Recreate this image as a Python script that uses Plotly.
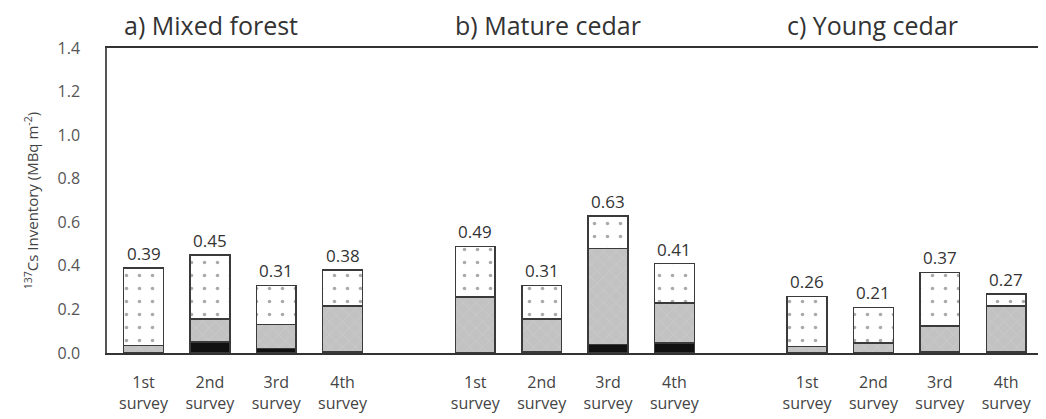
import plotly.graph_objects as go

# ---- data ----
groups = ["a) Mixed forest", "b) Mature cedar", "c) Young cedar"]
surveys = ["1st", "2nd", "3rd", "4th"]
survey_labels = ["1st<br>survey", "2nd<br>survey", "3rd<br>survey", "4th<br>survey"]

# totals (labels above bars), MBq m-2
totals = {
    "a) Mixed forest": [0.39, 0.45, 0.31, 0.38],
    "b) Mature cedar": [0.49, 0.31, 0.63, 0.41],
    "c) Young cedar": [0.26, 0.21, 0.37, 0.27],
}
# bottom (black) layer
black_layer = {
    "a) Mixed forest": [0.0, 0.05, 0.02, 0.005],
    "b) Mature cedar": [0.0, 0.005, 0.04, 0.045],
    "c) Young cedar": [0.0, 0.0, 0.005, 0.005],
}
# middle (grey, hatched) layer
grey_layer = {
    "a) Mixed forest": [0.035, 0.105, 0.11, 0.21],
    "b) Mature cedar": [0.257, 0.15, 0.44, 0.185],
    "c) Young cedar": [0.03, 0.045, 0.12, 0.21],
}

GROUP_STEP = 5  # 4 bars + one empty slot between panels

xs, black_v, grey_v, top_v, tot_v, tickvals, ticktext = [], [], [], [], [], [], []
for g, grp in enumerate(groups):
    for i, s in enumerate(surveys):
        x = g * GROUP_STEP + i
        xs.append(x)
        b = black_layer[grp][i]
        gr = grey_layer[grp][i]
        t = totals[grp][i]
        black_v.append(b)
        grey_v.append(gr)
        top_v.append(round(t - b - gr, 4))
        tot_v.append(t)
        tickvals.append(x)
        ticktext.append(survey_labels[i])

FONT = "Open Sans"
line = dict(color="#3a3a3a", width=1.5)
fig = go.Figure()
fig.add_bar(x=xs, y=black_v, width=0.6, name="black",
            marker=dict(color="#111111", line=line))
fig.add_bar(x=xs, y=grey_v, width=0.6, name="grey",
            marker=dict(color="#c2c2c2", line=line,
                        pattern=dict(shape="x", bgcolor="#c2c2c2", fgcolor="#dadada",
                                     size=9, solidity=0.12)))
fig.add_bar(x=xs, y=top_v, width=0.6, name="dotted",
            marker=dict(color="white", line=line,
                        pattern=dict(shape=".", bgcolor="white", fgcolor="#555555",
                                     size=13, solidity=0.06)))

for x, t in zip(xs, tot_v):
    fig.add_annotation(x=x, y=t, xref="x", yref="y", yanchor="bottom",
                       yshift=1, text=f"{t:.2f}", showarrow=False,
                       font=dict(family=FONT, size=17, color="#333333"))

for g, grp in enumerate(groups):
    fig.add_annotation(x=g * GROUP_STEP - 0.33, y=1.0, xref="x", yref="paper",
                       yanchor="bottom", xanchor="left", yshift=4,
                       text=grp, showarrow=False,
                       font=dict(family=FONT, size=25, color="#333333"))

# page body has an 8px default margin, so the figure is sized 8px smaller
fig.update_layout(
    barmode="stack",
    width=1038, height=411,
    margin=dict(l=99, r=0, t=40, b=66),
    paper_bgcolor="white", plot_bgcolor="white",
    showlegend=False,
    font=dict(family=FONT, color="#444444"),
)
fig.update_xaxes(range=[-0.55, 13.6], tickvals=tickvals, ticktext=ticktext,
                 showline=True, linecolor="#333333", linewidth=2, mirror=True,
                 showgrid=False, zeroline=False, ticks="", automargin=False,
                 ticklabelstandoff=14,
                 tickfont=dict(family=FONT, size=16, color="#444444"))
fig.update_yaxes(range=[0, 1.4], tickvals=[0, 0.2, 0.4, 0.6, 0.8, 1.0, 1.2, 1.4],
                 tickformat=".1f", showline=True, linecolor="#555555", linewidth=1.5,
                 showgrid=False, zeroline=False, ticks="", ticklabelstandoff=22,
                 automargin=False,
                 tickfont=dict(family=FONT, size=16, color="#555555"),
                 title=dict(text="<sup>137</sup>Cs Inventory (MBq m<sup>-2</sup>)",
                            font=dict(family=FONT, size=15, color="#444444"),
                            standoff=15))

fig.write_html("out.html")
